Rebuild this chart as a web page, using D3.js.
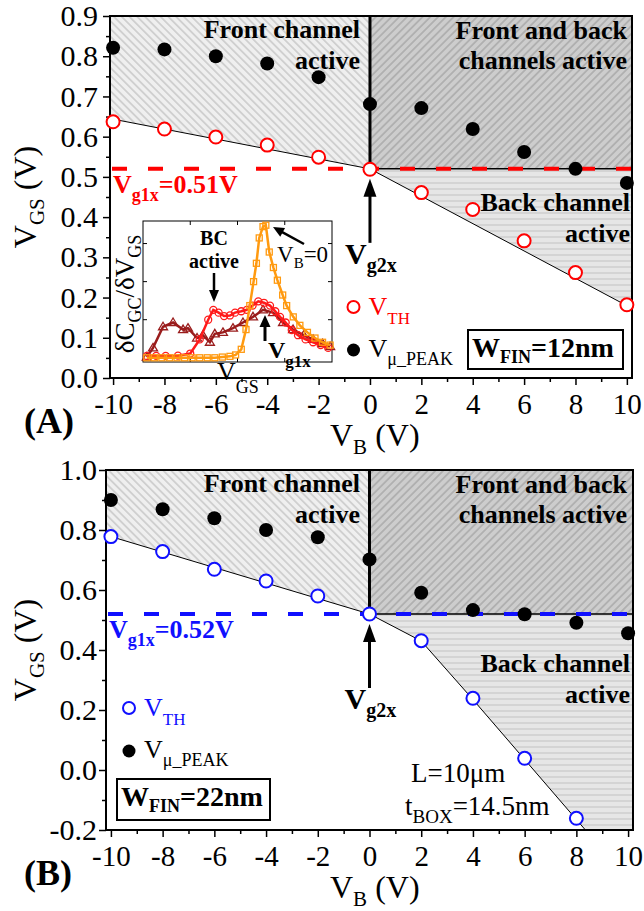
<!DOCTYPE html>
<html><head><meta charset="utf-8">
<script src="https://cdn.jsdelivr.net/npm/d3@7"></script>
<style>html,body{margin:0;padding:0;background:#fff}svg{display:block}</style>
</head><body>
<svg id="chart" width="644" height="911"></svg>
<script>
// ---------------- DATA ----------------
const vb = [-10, -8, -6, -4, -2, 0, 2, 4, 6, 8, 10];
const vthA = [0.637, 0.619, 0.599, 0.579, 0.549, 0.519, 0.461, 0.419, 0.341, 0.262, 0.182];
const vmuA = [0.821, 0.817, 0.800, 0.782, 0.748, 0.681, 0.671, 0.619, 0.562, 0.520, 0.485];
const vbB_th = [-10, -8, -6, -4, -2, 0, 2, 4, 6, 8];
const vthB = [0.778, 0.728, 0.669, 0.630, 0.580, 0.520, 0.431, 0.239, 0.039, -0.161];
const vmuB = [0.900, 0.869, 0.839, 0.800, 0.776, 0.702, 0.591, 0.533, 0.519, 0.491, 0.456];
const vg1xA = 0.52, vg1xB = 0.52;
const boundA = [[-10.12, 0.645], [0, 0.52], [10.2, 0.173]];
const boundB = [[-10.19, 0.783], [0, 0.52], [2, 0.43], [4, 0.235], [6, 0.035], [8, -0.165], [8.35, -0.2]];
const xTicks = [-10, -8, -6, -4, -2, 0, 2, 4, 6, 8, 10];
const xMinor = [-9, -7, -5, -3, -1, 1, 3, 5, 7, 9];
const yTicksA = [0, 0.1, 0.2, 0.3, 0.4, 0.5, 0.6, 0.7, 0.8, 0.9];
const yMinorA = [0.05, 0.15, 0.25, 0.35, 0.45, 0.55, 0.65, 0.75, 0.85];
const yTicksB = [-0.2, 0, 0.2, 0.4, 0.6, 0.8, 1.0];
const yMinorB = [-0.1, 0.1, 0.3, 0.5, 0.7, 0.9];
// inset (normalized VGS, normalized dCGC/dVGS)
const insOrangeT = [0.02,0.06,0.10,0.14,0.18,0.22,0.26,0.30,0.34,0.38,0.42,0.46,0.49,0.52,0.545,0.565,0.585,0.60,0.615,0.635,0.65,0.668,0.69,0.711,0.739,0.76,0.795,0.83,0.87,0.91,0.95,0.99];
const insOrangeV = [0.03,0.03,0.03,0.03,0.03,0.03,0.03,0.03,0.03,0.03,0.035,0.04,0.05,0.09,0.23,0.40,0.57,0.70,0.88,0.96,0.97,0.78,0.67,0.58,0.475,0.40,0.32,0.26,0.21,0.17,0.14,0.12];
const insRedT = [0.02,0.07,0.12,0.185,0.25,0.30,0.345,0.372,0.40,0.429,0.46,0.487,0.52,0.549,0.58,0.61,0.64,0.672,0.70,0.725,0.755,0.787,0.82,0.86,0.90,0.94,0.98];
const insRedV = [0.043,0.043,0.043,0.045,0.06,0.16,0.30,0.37,0.35,0.326,0.33,0.35,0.36,0.37,0.40,0.43,0.42,0.40,0.36,0.32,0.28,0.227,0.19,0.16,0.14,0.12,0.10];
const insTriT = [0.02,0.053,0.106,0.159,0.212,0.238,0.286,0.317,0.354,0.38,0.423,0.476,0.529,0.582,0.635,0.688,0.741,0.794,0.85,0.9,0.95,0.99];
const insTriV = [0.035,0.10,0.25,0.28,0.23,0.24,0.17,0.19,0.14,0.20,0.21,0.24,0.28,0.32,0.37,0.35,0.28,0.23,0.19,0.16,0.13,0.11];
const insXTicks = [0.25, 0.5, 0.75];
const insYTicks = [0.3, 0.57, 0.84];

// ---------------- SETUP ----------------
const FONT = "'Liberation Serif','Times New Roman',serif";
const svg = d3.select('#chart');
const defs = svg.append('defs');

function hatch(id, base, color, angle, size, sw) {
  const p = defs.append('pattern').attr('id', id).attr('patternUnits', 'userSpaceOnUse')
    .attr('width', size).attr('height', size).attr('patternTransform', `rotate(${angle})`);
  p.append('rect').attr('width', size).attr('height', size).attr('fill', base);
  p.append('line').attr('x1', size / 2).attr('y1', 0).attr('x2', size / 2).attr('y2', size)
    .attr('stroke', color).attr('stroke-width', sw);
}
hatch('hFront', '#efefef', '#a6a6a6', -45, 5.5, 0.8);
hatch('hBoth', '#cdcdcd', '#8a8a8a', 45, 5.5, 0.8);
hatch('hBack', '#e6e6e6', '#c2c2c2', 90, 6, 1);

function rich(sel, x, y, parts, o) {
  const t = sel.append('text').attr('x', x).attr('y', y)
    .attr('font-family', FONT).attr('font-size', o.size)
    .attr('font-weight', o.bold ? 'bold' : 'normal')
    .attr('fill', o.fill || '#000').attr('text-anchor', o.anchor || 'start');
  if (o.transform) t.attr('transform', o.transform);
  let shift = 0;
  parts.forEach(p => {
    const ts = t.append('tspan').text(p.t);
    const want = p.sub ? (p.dy != null ? p.dy : o.size * 0.3) : 0;
    if (want !== shift) { ts.attr('dy', want - shift); shift = want; }
    if (p.sub) ts.attr('font-size', p.size || o.subSize || o.size * 0.65);
  });
  return t;
}

function arrow(sel, x1, y1, x2, y2, w, hl, hw, color) {
  const dx = x2 - x1, dy = y2 - y1, L = Math.hypot(dx, dy);
  const ux = dx / L, uy = dy / L, px = -uy, py = ux;
  const bx = x2 - ux * hl, by = y2 - uy * hl;
  sel.append('line').attr('x1', x1).attr('y1', y1).attr('x2', bx + ux).attr('y2', by + uy)
    .attr('stroke', color || '#000').attr('stroke-width', w);
  sel.append('path').attr('d', `M${x2},${y2}L${bx + px * hw / 2},${by + py * hw / 2}L${bx - px * hw / 2},${by - py * hw / 2}Z`)
    .attr('fill', color || '#000');
}

function panel(cfg) {
  const g = svg.append('g');
  const x = d3.scaleLinear().domain(cfg.xDom).range([cfg.left, cfg.right]);
  const y = d3.scaleLinear().domain(cfg.yDom).range([cfg.bottom, cfg.top]);
  const [x0, x1] = cfg.xDom, [y0, y1] = cfg.yDom;
  const line = d3.line().x(d => x(d[0])).y(d => y(d[1]));
  const b = cfg.bound;
  const ix0 = b.findIndex(d => d[0] === 0);
  const leftPart = b.slice(0, ix0 + 1), rightPart = b.slice(ix0);
  const last = rightPart[rightPart.length - 1];
  // regions
  g.append('path').attr('d', line([[x0, y1], [0, y1], ...leftPart.slice().reverse(), [x0, y1]]))
    .attr('fill', 'url(#hFront)');
  g.append('path').attr('d', line([[0, cfg.vg1x], [x1, cfg.vg1x], [x1, y1], [0, y1]]))
    .attr('fill', 'url(#hBoth)');
  const backPoly = [...rightPart, ...(last[1] <= y0 + 1e-9 ? [[x1, y0]] : []), [x1, cfg.vg1x]];
  g.append('path').attr('d', line(backPoly) + 'Z').attr('fill', 'url(#hBack)');
  // boundary lines
  g.append('line').attr('x1', x(0)).attr('x2', x(x1)).attr('y1', y(cfg.vg1x)).attr('y2', y(cfg.vg1x))
    .attr('stroke', '#000').attr('stroke-width', 1.5);
  g.append('path').attr('d', line(b)).attr('fill', 'none').attr('stroke', '#000').attr('stroke-width', 1);
  g.append('line').attr('x1', x(0)).attr('x2', x(0)).attr('y1', y(cfg.vg1x)).attr('y2', y(y1))
    .attr('stroke', '#000').attr('stroke-width', 3);
  // dashed Vg1x
  g.append('line').attr('x1', cfg.left + 2).attr('x2', cfg.right).attr('y1', y(cfg.vg1x)).attr('y2', y(cfg.vg1x))
    .attr('stroke', cfg.color).attr('stroke-width', 4).attr('stroke-dasharray', '15,21');
  // frame
  g.append('rect').attr('x', cfg.left).attr('y', cfg.top).attr('width', cfg.right - cfg.left)
    .attr('height', cfg.bottom - cfg.top).attr('fill', 'none').attr('stroke', '#000').attr('stroke-width', 2);
  // axes
  const ax = g.append('g').attr('transform', `translate(0,${cfg.bottom})`)
    .call(d3.axisBottom(x).tickValues(xTicks).tickSize(7).tickPadding(8).tickFormat(d => String(d)));
  g.append('g').attr('transform', `translate(0,${cfg.bottom})`)
    .call(d3.axisBottom(x).tickValues(xMinor).tickSize(4).tickFormat(''));
  const ay = g.append('g').attr('transform', `translate(${cfg.left},0)`)
    .call(d3.axisLeft(y).tickValues(cfg.yTicks).tickSize(7).tickPadding(cfg.yPad).tickFormat(d => d.toFixed(1)));
  g.append('g').attr('transform', `translate(${cfg.left},0)`)
    .call(d3.axisLeft(y).tickValues(cfg.yMinor).tickSize(4).tickFormat(''));
  g.selectAll('.domain').remove();
  g.selectAll('.tick line').attr('stroke', '#000').attr('stroke-width', 1.5);
  ax.selectAll('text').attr('font-family', FONT).attr('font-size', 29).attr('fill', '#000');
  ay.selectAll('text').attr('font-family', FONT).attr('font-size', 30).attr('fill', '#000');
  // points
  g.selectAll('.mu').data(cfg.vmu).enter().append('circle')
    .attr('cx', (d, i) => x(vb[i])).attr('cy', d => y(d)).attr('r', 7).attr('fill', '#000');
  g.selectAll('.th').data(cfg.vth).enter().append('circle')
    .attr('cx', (d, i) => x(cfg.thX[i])).attr('cy', d => y(d)).attr('r', 6.5)
    .attr('fill', '#fff').attr('stroke', cfg.color).attr('stroke-width', 2);
  // titles
  rich(g, 0, 0, [{ t: 'V' }, { t: 'GS', sub: true, dy: 8 }, { t: ' (V)' }],
    { size: 32, subSize: 21, anchor: 'middle', transform: `translate(36,${(cfg.top + cfg.bottom) / 2}) rotate(-90)` });
  rich(g, 330, cfg.bottom + 68, [{ t: 'V' }, { t: 'B', sub: true, dy: 8 }, { t: ' (V)' }], { size: 32, subSize: 21 });
  rich(g, 24, cfg.bottom + 55, [{ t: cfg.tag }], { size: 36, bold: true });
  // region labels
  const T = { size: 26, bold: true, anchor: 'end' };
  rich(g, 360, cfg.top + 22, [{ t: 'Front channel' }], T);
  rich(g, 360, cfg.top + 53, [{ t: 'active' }], T);
  rich(g, 627, cfg.top + 23, [{ t: 'Front and back' }], T);
  rich(g, 627, cfg.top + 53, [{ t: 'channels active' }], T);
  rich(g, 630, y(cfg.vg1x) + cfg.backDy, [{ t: 'Back channel' }], T);
  rich(g, 630, y(cfg.vg1x) + cfg.backDy + 31, [{ t: 'active' }], T);
  // Vg1x label
  rich(g, cfg.left + 3, y(cfg.vg1x) + 24, [{ t: 'V' }, { t: 'g1x', sub: true, dy: 8 }, { t: cfg.vg1xText }],
    { size: 26, subSize: 18, bold: true, fill: cfg.color });
  // Vg2x arrow & label
  arrow(g, x(0), y(cfg.vg1x) + 74, x(0), y(cfg.vg1x) + 10, 3, 18, 13);
  rich(g, x(0) - 25, y(cfg.vg1x) + 95, [{ t: 'V' }, { t: 'g2x', sub: true, dy: 8 }],
    { size: 30, subSize: 20, bold: true });
  // legend
  const L = cfg.legend;
  g.append('circle').attr('cx', L[0]).attr('cy', L[1]).attr('r', 6).attr('fill', '#fff')
    .attr('stroke', cfg.color).attr('stroke-width', 2);
  rich(g, L[0] + 15, L[1] + 8, [{ t: 'V' }, { t: 'TH', sub: true, dy: 9 }], { size: 26, subSize: 17, fill: cfg.color });
  g.append('circle').attr('cx', L[0]).attr('cy', L[1] + 43).attr('r', 6.5).attr('fill', '#000');
  rich(g, L[0] + 15, L[1] + 50, [{ t: 'V' }, { t: 'μ_PEAK', sub: true, dy: 8 }], { size: 26, subSize: 18 });
  // W_FIN box
  const B = cfg.box;
  g.append('rect').attr('x', B[0]).attr('y', B[1]).attr('width', B[2]).attr('height', B[3])
    .attr('fill', '#fff').attr('stroke', '#000').attr('stroke-width', 2);
  rich(g, B[0] + 4, B[1] + 27, [{ t: 'W' }, { t: 'FIN', sub: true, dy: 6 }, { t: cfg.wfin }],
    { size: 28, subSize: 18, bold: true });
  return { g, x, y };
}

// ---------------- PANEL A ----------------
const A = panel({
  left: 110, right: 632, top: 16, bottom: 378, xDom: [-10.12, 10.2], yDom: [0, 0.9],
  yTicks: yTicksA, yMinor: yMinorA, yPad: 5, vth: vthA, thX: vb, vmu: vmuA, vg1x: vg1xA,
  bound: boundA, color: '#ff0000', vg1xText: '=0.51V', tag: '(A)', backDy: 42,
  legend: [353.5, 307], box: [468, 330, 155, 39], wfin: '=12nm'
});

// inset
(function () {
  const g = A.g.append('g');
  const tx = d3.scaleLinear().domain([0, 1]).range([143, 332]);
  const ty = d3.scaleLinear().domain([0, 1]).range([362, 221]);
  g.append('rect').attr('x', 143).attr('y', 221).attr('width', 189).attr('height', 141)
    .attr('fill', '#fff').attr('stroke', '#000').attr('stroke-width', 1);
  insXTicks.forEach(t => {
    g.append('line').attr('x1', tx(t)).attr('x2', tx(t)).attr('y1', 362).attr('y2', 358).attr('stroke', '#000');
    g.append('line').attr('x1', tx(t)).attr('x2', tx(t)).attr('y1', 221).attr('y2', 225).attr('stroke', '#000');
  });
  insYTicks.forEach(v => {
    g.append('line').attr('x1', 143).attr('x2', 147).attr('y1', ty(v)).attr('y2', ty(v)).attr('stroke', '#000');
    g.append('line').attr('x1', 332).attr('x2', 328).attr('y1', ty(v)).attr('y2', ty(v)).attr('stroke', '#000');
  });
  const ln = d3.line().x(d => tx(d[0])).y(d => ty(d[1]));
  const series = [
    { T: insTriT, V: insTriV, c: '#9a1c1c', m: 'tri' },
    { T: insRedT, V: insRedV, c: '#ff1a1a', m: 'circ' },
    { T: insOrangeT, V: insOrangeV, c: '#ff9a10', m: 'sq' }
  ];
  series.forEach(s => {
    const pts = s.T.map((t, i) => [t, s.V[i]]);
    g.append('path').attr('d', ln(pts)).attr('fill', 'none').attr('stroke', s.c).attr('stroke-width', 2.5);
    const mk = g.selectAll(null).data(pts).enter();
    if (s.m === 'sq') {
      mk.append('rect').attr('x', d => tx(d[0]) - 3).attr('y', d => ty(d[1]) - 3).attr('width', 6).attr('height', 6)
        .attr('fill', 'none').attr('stroke', s.c).attr('stroke-width', 1.3);
    } else if (s.m === 'circ') {
      mk.append('circle').attr('cx', d => tx(d[0])).attr('cy', d => ty(d[1])).attr('r', 3.5)
        .attr('fill', 'none').attr('stroke', s.c).attr('stroke-width', 1.3);
    } else {
      mk.append('path').attr('d', d => `M${tx(d[0])},${ty(d[1]) - 4.5}l4.5,7.5h-9z`)
        .attr('fill', 'none').attr('stroke', s.c).attr('stroke-width', 1.3);
    }
  });
  rich(g, 0, 0, [{ t: 'δC' }, { t: 'GC', sub: true, dy: 7 }, { t: '/δV' }, { t: 'GS', sub: true, dy: 7 }],
    { size: 27, subSize: 18, anchor: 'middle', transform: 'translate(134,294) rotate(-90)' });
  rich(g, 217, 380, [{ t: 'V' }, { t: 'GS', sub: true, dy: 13 }], { size: 26, subSize: 18 });
  rich(g, 214, 245, [{ t: 'BC' }], { size: 20, bold: true, anchor: 'middle' });
  rich(g, 214, 268, [{ t: 'active' }], { size: 20, bold: true, anchor: 'middle' });
  arrow(g, 214, 273, 214, 302, 2.5, 12, 10);
  rich(g, 277, 262, [{ t: 'V' }, { t: 'B', sub: true, dy: 6 }, { t: '=0' }], { size: 23, subSize: 15 });
  arrow(g, 304, 244, 273, 227, 2.5, 11, 10);
  arrow(g, 265, 341, 265, 315, 3, 12, 11);
  rich(g, 268, 358, [{ t: 'V' }, { t: 'g1x', sub: true, dy: 9 }], { size: 24, subSize: 17, bold: true });
})();

// ---------------- PANEL B ----------------
const Bp = panel({
  left: 106, right: 633, top: 470, bottom: 830, xDom: [-10.19, 10.19], yDom: [-0.2, 1.0],
  yTicks: yTicksB, yMinor: yMinorB, yPad: 2, vth: vthB, thX: vbB_th, vmu: vmuB, vg1x: vg1xB,
  bound: boundB, color: '#1010ff', vg1xText: '=0.52V', tag: '(B)', backDy: 58,
  legend: [129, 708], box: [117, 779, 153, 41], wfin: '=22nm'
});
rich(Bp.g, 411, 782, [{ t: 'L=10μm' }], { size: 27 });
rich(Bp.g, 405, 815, [{ t: 't' }, { t: 'BOX', sub: true, dy: 8 }, { t: '=14.5nm' }], { size: 27, subSize: 19 });
</script>
</body></html>
